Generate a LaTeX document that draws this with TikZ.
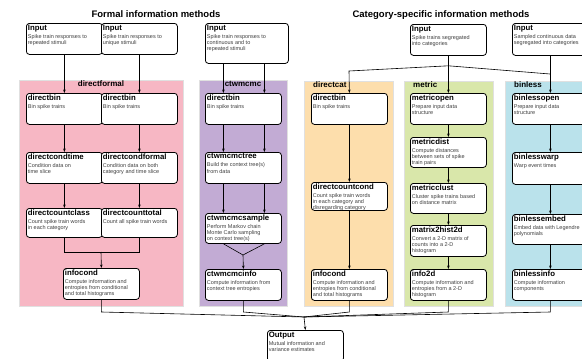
\documentclass[tikz,border=0pt]{standalone}
\usepackage{fontspec}
\setmainfont{Liberation Sans}
\usetikzlibrary{arrows.meta,calc}

\definecolor{formalpink}{RGB}{247,183,196}
\definecolor{ctwpurple}{RGB}{194,171,212}
\definecolor{catorange}{RGB}{253,222,172}
\definecolor{metricgreen}{RGB}{217,231,170}
\definecolor{binlessblue}{RGB}{186,226,235}

% box text: [width]{height}{title}{description}
\newcommand{\stagetext}[4][73pt]{\parbox[t][#2][t]{#1}{{\fontsize{7.8}{8}\selectfont\bfseries #3}\par\vspace{1.5pt}\fontsize{5.5}{6.3}\selectfont\color{black!75}#4}}

\begin{document}
\begin{tikzpicture}[x=1pt,y=-1pt,
	stage/.style={draw,line width=0.8pt,rounded corners=3pt,fill=white,anchor=north west,inner sep=1.5pt},
	panel/.style={draw=black!12,line width=0.6pt},
	panellabel/.style={font=\fontsize{8}{9}\selectfont\bfseries,inner sep=0pt},
	heading/.style={font=\fontsize{9.5}{11}\selectfont\bfseries,inner sep=0pt},
	arr/.style={-{Stealth[length=3.5pt,width=2.6pt]},line width=0.6pt},
	link/.style={line width=0.6pt}]
	\useasboundingbox (0,0) rectangle (582,359);
	\clip (0,0) rectangle (582,359);
	
	\node[heading] (hformal) at (156,14){Formal information methods};
	\node[heading] (hcat) at (441,15){Category-specific information methods};
	
	% panels
	\draw[panel,fill=formalpink] (19,80) rectangle (183,306);
	\draw[panel,fill=ctwpurple] (199,80) rectangle (287,306);
	\draw[panel,fill=catorange] (304,81) rectangle (393,306);
	\draw[panel,fill=metricgreen] (404,81) rectangle (493,306);
	\draw[panel,fill=binlessblue] (505,81) rectangle (600,306);
	
	\node[panellabel] (lformal) at (101,84){directformal};
	\node[panellabel] (lctw) at (243,84){ctwmcmc};
	\node[panellabel,anchor=west] (lcat) at (313,85){directcat};
	\node[panellabel,anchor=west] (lmetric) at (413,85){metric};
	\node[panellabel,anchor=west] (lbinless) at (514,85){binless};
	
	% inputs
	\node[stage] (in1) at (26,23){\stagetext{28pt}{Input}{Spike train responses to\\repeated stimuli}};
	\node[stage] (in2) at (101,23){\stagetext{28pt}{Input}{Spike train responses to\\unique stimuli}};
	\node[stage] (in3) at (205,23){\stagetext[80pt]{37pt}{Input}{Spike train responses to\\continuous and to\\repeated stimuli}};
	\node[stage] (in4) at (410,24){\stagetext{28pt}{Input}{Spike trains segregated\\into categories}};
	\node[stage] (in5) at (512,23){\stagetext[80pt]{29pt}{Input}{Sampled continuous data\\segregated into categories}};
	
	% directformal
	\node[stage] (fbin1) at (26,93){\stagetext{28pt}{directbin}{Bin spike trains}};
	\node[stage] (fbin2) at (101,93){\stagetext{28pt}{directbin}{Bin spike trains}};
	\node[stage] (ftime) at (26,152){\stagetext{28pt}{directcondtime}{Condition data on\\time slice}};
	\node[stage] (fformal) at (101,152){\stagetext{28pt}{directcondformal}{Condition data on both\\category and time slice}};
	\node[stage] (fclass) at (26,208){\stagetext{26pt}{directcountclass}{Count spike train words\\in each category}};
	\node[stage] (ftotal) at (101,208){\stagetext{26pt}{directcounttotal}{Count all spike train words}};
	\node[stage] (finfo) at (63,268){\stagetext{28pt}{infocond}{Compute information and\\entropies from conditional\\and total histograms}};
	
	% ctwmcmc
	\node[stage] (cbin) at (205,93){\stagetext{28pt}{directbin}{Bin spike trains}};
	\node[stage] (ctree) at (205,152){\stagetext{28pt}{ctwmcmctree}{Build the context tree(s)\\from data}};
	\node[stage] (csample) at (205,213){\stagetext{27pt}{ctwmcmcsample}{Perform Markov chain\\Monte Carlo sampling\\on context tree(s)}};
	\node[stage] (cinfo) at (205,269){\stagetext{28pt}{ctwmcmcinfo}{Compute information from\\context tree entropies}};
	
	% directcat
	\node[stage] (dbin) at (311,93){\stagetext{28pt}{directbin}{Bin spike trains}};
	\node[stage] (dcount) at (311,182){\stagetext{25pt}{directcountcond}{Count spike train words\\in each category and\\disregarding category}};
	\node[stage] (dinfo) at (311,269){\stagetext{28pt}{infocond}{Compute information and\\entropies from conditional\\and total histograms}};
	
	% metric
	\node[stage] (mopen) at (410,93){\stagetext{28pt}{metricopen}{Prepare input data\\structure}};
	\node[stage] (mdist) at (410,137){\stagetext{27pt}{metricdist}{Compute distances\\between sets of spike\\train pairs}};
	\node[stage] (mclust) at (410,183){\stagetext{27pt}{metricclust}{Cluster spike trains based\\on distance matrix}};
	\node[stage] (mhist) at (410,225){\stagetext{28pt}{matrix2hist2d}{Convert a 2-D matrix of\\counts into a 2-D\\histogram}};
	\node[stage] (minfo) at (410,269){\stagetext{28pt}{info2d}{Compute information and\\entropies from a 2-D\\histogram}};
	
	% binless
	\node[stage] (bopen) at (512,93){\stagetext{28pt}{binlessopen}{Prepare input data\\structure}};
	\node[stage] (bwarp) at (512,152){\stagetext{29pt}{binlesswarp}{Warp event times}};
	\node[stage] (bembed) at (512,214){\stagetext{27pt}{binlessembed}{Embed data with Legendre\\polynomials}};
	\node[stage] (binfo) at (512,269){\stagetext{28pt}{binlessinfo}{Compute information\\components}};
	
	\node[stage] (out) at (267,330){\stagetext{28pt}{Output}{Mutual information and\\variance estimates}};
	
	% joints
	\coordinate (pjoin) at (101,252);
	\coordinate (cjoin) at (243,255);
	\coordinate (split) at ($(in4.south)+(0,10)$);
	\coordinate (lbend) at (349,71);
	\coordinate (rbend) at (550,74);
	\coordinate (lowrow) at (0,312);
	\coordinate (merge) at (304,317);
	
	% directformal links
	\draw[arr] (in1.south) -- (fbin1.north);
	\draw[arr] (in2.south) -- (fbin2.north);
	\draw[arr] (fbin1.south) -- (ftime.north);
	\draw[arr] (fbin2.south) -- (fformal.north);
	\draw[arr] (ftime.south) -- (fclass.north);
	\draw[arr] (fformal.south) -- (ftotal.north);
	\draw[link] (fclass.south) -- (fclass.south |- pjoin) -- (ftotal.south |- pjoin) -- (ftotal.south);
	\draw[arr] (pjoin) -- (finfo.north);
	
	% ctwmcmc links
	\draw[arr] ([xshift=-20pt]cbin.north |- in3.south) -- ([xshift=-20pt]cbin.north);
	\draw[arr] ([xshift=21pt]cbin.north |- in3.south) -- ([xshift=21pt]cbin.north);
	\draw[arr] ([xshift=-20pt]cbin.south) -- ([xshift=-20pt]ctree.north);
	\draw[arr] ([xshift=21pt]cbin.south) -- ([xshift=21pt]ctree.north);
	\draw[arr] ([xshift=-20pt]ctree.south) -- ([xshift=-20pt]csample.north);
	\draw[arr] ([xshift=21pt]ctree.south) -- ([xshift=21pt]csample.north);
	\draw[link] ([xshift=-20pt]csample.south) -- (cjoin) -- ([xshift=21pt]csample.south);
	\draw[arr] (cjoin) -- (cinfo.north);
	
	% category links
	\draw[link] (in4.south) -- (split);
	\draw[arr] (split) -- (lbend) -- (dbin.north);
	\draw[arr] (split) -- (mopen.north);
	\draw[link] (split) -- (rbend);
	\draw[arr] (in5.south -| bopen.north) -- (bopen.north);
	\draw[arr] (dbin.south) -- (dcount.north);
	\draw[arr] (dcount.south) -- (dinfo.north);
	\draw[arr] (mopen.south) -- (mdist.north);
	\draw[arr] (mdist.south) -- (mclust.north);
	\draw[arr] (mclust.south) -- (mhist.north);
	\draw[arr] (mhist.south) -- (minfo.north);
	\draw[arr] (bopen.south) -- (bwarp.north);
	\draw[arr] (bwarp.south) -- (bembed.north);
	\draw[arr] (bembed.south) -- (binfo.north);
	
	% output
	\draw[link] (finfo.south) -- (finfo.south |- lowrow) -- (merge);
	\draw[link] (cinfo.south) -- (cinfo.south |- lowrow) -- (merge);
	\draw[link] (dinfo.south) -- (dinfo.south |- lowrow) -- (merge);
	\draw[link] (minfo.south) -- (minfo.south |- lowrow) -- (merge);
	\draw[link] (binfo.south) -- (binfo.south |- lowrow) -- (merge);
	\draw[arr] (merge) -- (out.north);
\end{tikzpicture}
\end{document}
